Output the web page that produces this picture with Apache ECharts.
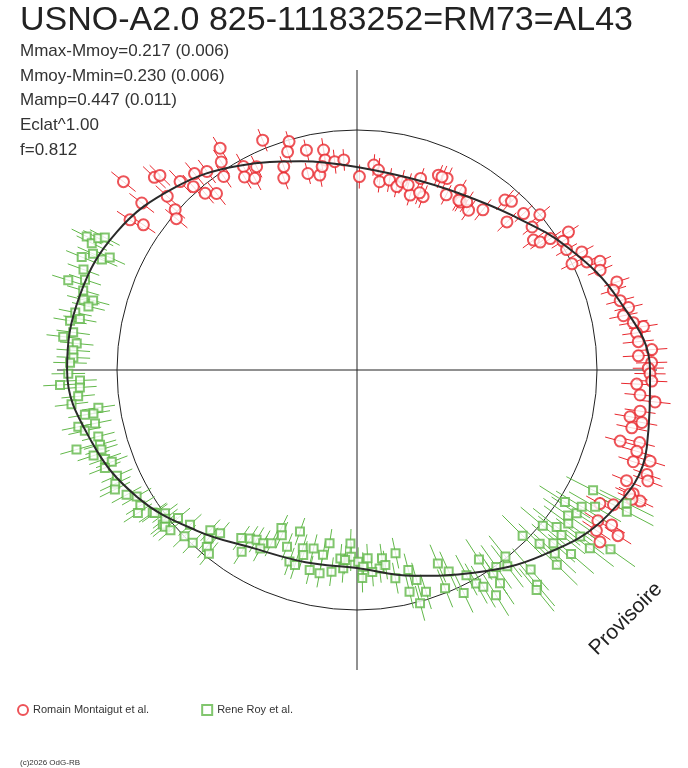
<!DOCTYPE html>
<html>
<head>
<meta charset="utf-8">
<script src="https://cdn.jsdelivr.net/npm/echarts@6/dist/echarts.min.js"></script>
<style>
  html, body { margin: 0; padding: 0; background: #fff; }
  #main { width: 688px; height: 768px; }
</style>
</head>
<body>
<div id="main"></div>
<script>
// phase diagram: angle = phase (0 at top, clockwise), radius = flux relative to mean (1 = mean circle)
var statLines = ['Mmax-Mmoy=0.217 (0.006)', 'Mmoy-Mmin=0.230 (0.006)', 'Mamp=0.447 (0.011)', 'Eclat^1.00', 'f=0.812']

// fitted light curve, every 1/24 of phase
var fitPhase = [0, 0.0417, 0.0833, 0.125, 0.1667, 0.2083, 0.25, 0.2917, 0.3333, 0.375, 0.4167, 0.4583,
    0.5, 0.5417, 0.5833, 0.625, 0.6667, 0.7083, 0.75, 0.7917, 0.8333, 0.875, 0.9167, 0.9583, 1]
var fitFlux = [0.846, 0.829, 0.850, 0.912, 1.017, 1.129, 1.221, 1.250, 1.208, 1.092, 0.975, 0.888,
    0.825, 0.829, 0.858, 0.946, 1.058, 1.146, 1.208, 1.196, 1.154, 1.075, 0.983, 0.900, 0.846]

// Romain Montaigut et al. : [phase, relative flux, error]
var redObs = [
    [0.858, 1.250, 0.065], [0.871, 1.165, 0.065], [0.874, 1.154, 0.060], [0.855, 1.135, 0.065], [0.843, 1.134, 0.065],
    [0.845, 1.076, 0.060], [0.868, 1.072, 0.065], [0.865, 1.010, 0.055], [0.861, 0.982, 0.060], [0.880, 1.077, 0.065],
    [0.890, 1.062, 0.060], [0.884, 1.024, 0.065], [0.887, 0.971, 0.055], [0.893, 0.940, 0.060], [0.897, 1.037, 0.060],
    [0.912, 1.086, 0.055], [0.908, 1.035, 0.060], [0.904, 0.979, 0.055], [0.919, 0.971, 0.060], [0.916, 0.931, 0.055],
    [0.922, 0.905, 0.055], [0.927, 0.945, 0.050], [0.938, 1.035, 0.050], [0.954, 0.993, 0.045], [0.951, 0.954, 0.050],
    [0.964, 0.940, 0.045], [0.976, 0.927, 0.050], [0.976, 0.885, 0.045], [0.942, 0.856, 0.050], [0.945, 0.901, 0.045],
    [0.961, 0.844, 0.045], [0.970, 0.827, 0.050], [0.973, 0.860, 0.045], [0.983, 0.873, 0.050], [0.990, 0.877, 0.045],
    [0.002, 0.806, 0.050], [0.013, 0.857, 0.045], [0.017, 0.838, 0.050], [0.019, 0.790, 0.045], [0.027, 0.803, 0.050],
    [0.034, 0.782, 0.045], [0.037, 0.806, 0.050], [0.047, 0.762, 0.045], [0.043, 0.800, 0.050], [0.051, 0.841, 0.045],
    [0.058, 0.773, 0.050], [0.063, 0.880, 0.045], [0.070, 0.882, 0.050], [0.075, 0.819, 0.045], [0.083, 0.864, 0.050],
    [0.088, 0.822, 0.045], [0.054, 0.783, 0.050], [0.066, 0.879, 0.050], [0.086, 0.825, 0.050], [0.097, 0.812, 0.050],
    [0.106, 0.849, 0.055], [0.092, 0.837, 0.050], [0.114, 0.939, 0.055], [0.118, 0.953, 0.050], [0.126, 0.878, 0.055],
    [0.130, 0.952, 0.050], [0.138, 0.999, 0.055], [0.141, 0.942, 0.050], [0.149, 0.913, 0.055], [0.153, 0.931, 0.050],
    [0.155, 0.974, 0.055], [0.158, 1.052, 0.050], [0.161, 1.012, 0.055], [0.167, 1.007, 0.050], [0.173, 1.058, 0.055],
    [0.177, 0.999, 0.050], [0.180, 1.058, 0.055], [0.183, 1.109, 0.050], [0.188, 1.095, 0.055], [0.198, 1.143, 0.055],
    [0.202, 1.119, 0.055], [0.209, 1.134, 0.060], [0.214, 1.161, 0.060], [0.218, 1.133, 0.060], [0.226, 1.207, 0.060],
    [0.229, 1.175, 0.060], [0.223, 1.168, 0.060], [0.234, 1.178, 0.065], [0.239, 1.231, 0.065], [0.242, 1.174, 0.065],
    [0.246, 1.228, 0.065], [0.249, 1.214, 0.065], [0.252, 1.221, 0.065], [0.258, 1.167, 0.065], [0.256, 1.229, 0.065],
    [0.264, 1.184, 0.065], [0.267, 1.249, 0.065], [0.273, 1.192, 0.065], [0.277, 1.154, 0.065], [0.279, 1.207, 0.065],
    [0.283, 1.170, 0.065], [0.292, 1.136, 0.065], [0.290, 1.216, 0.065], [0.295, 1.214, 0.065], [0.301, 1.213, 0.065],
    [0.298, 1.279, 0.065], [0.312, 1.214, 0.065], [0.305, 1.284, 0.060], [0.308, 1.297, 0.065], [0.317, 1.261, 0.065],
    [0.319, 1.300, 0.060], [0.320, 1.266, 0.065], [0.318, 1.248, 0.065], [0.330, 1.155, 0.065], [0.327, 1.207, 0.065],
    [0.339, 1.184, 0.065], [0.337, 1.242, 0.065], [0.344, 1.201, 0.070], [0.340, 1.288, 0.065], [0.348, 1.240, 0.070]
]

// Rene Roy et al. : [phase, relative flux, error]
var greenObs = [
    [0.823, 1.256, 0.070], [0.821, 1.225, 0.070], [0.825, 1.210, 0.070], [0.827, 1.187, 0.070], [0.812, 1.240, 0.070],
    [0.816, 1.202, 0.070], [0.815, 1.158, 0.070], [0.818, 1.132, 0.070], [0.806, 1.214, 0.070], [0.798, 1.260, 0.070],
    [0.801, 1.194, 0.070], [0.795, 1.188, 0.070], [0.790, 1.177, 0.070], [0.791, 1.137, 0.070], [0.787, 1.150, 0.070],
    [0.782, 1.198, 0.070], [0.779, 1.174, 0.070], [0.777, 1.213, 0.070], [0.768, 1.232, 0.070], [0.771, 1.193, 0.070],
    [0.765, 1.173, 0.070], [0.761, 1.185, 0.070], [0.757, 1.183, 0.070], [0.754, 1.196, 0.070], [0.748, 1.203, 0.070],
    [0.744, 1.155, 0.070], [0.742, 1.239, 0.070], [0.740, 1.157, 0.070], [0.735, 1.167, 0.070], [0.731, 1.198, 0.070],
    [0.727, 1.089, 0.070], [0.724, 1.113, 0.070], [0.724, 1.149, 0.070], [0.718, 1.114, 0.070], [0.718, 1.185, 0.070],
    [0.715, 1.162, 0.070], [0.710, 1.113, 0.070], [0.705, 1.115, 0.070], [0.706, 1.215, 0.070], [0.700, 1.154, 0.070],
    [0.702, 1.115, 0.070], [0.696, 1.113, 0.070], [0.693, 1.091, 0.070], [0.691, 1.127, 0.070], [0.684, 1.093, 0.070],
    [0.680, 1.113, 0.070], [0.677, 1.125, 0.070], [0.671, 1.092, 0.070], [0.667, 1.059, 0.070], [0.661, 1.065, 0.070],
    [0.658, 1.090, 0.070], [0.653, 1.038, 0.070], [0.648, 0.998, 0.065], [0.643, 1.034, 0.065], [0.652, 1.032, 0.065],
    [0.645, 1.011, 0.065], [0.640, 0.968, 0.065], [0.641, 1.033, 0.065], [0.637, 1.025, 0.065], [0.631, 0.949, 0.065],
    [0.628, 0.998, 0.065], [0.621, 0.993, 0.060], [0.615, 0.936, 0.060], [0.618, 0.905, 0.060], [0.611, 0.888, 0.060],
    [0.612, 0.967, 0.060], [0.608, 0.983, 0.060], [0.596, 0.850, 0.060], [0.590, 0.897, 0.060], [0.590, 0.831, 0.060],
    [0.585, 0.822, 0.060], [0.579, 0.821, 0.060], [0.579, 0.846, 0.060], [0.573, 0.805, 0.060], [0.571, 0.730, 0.060],
    [0.568, 0.756, 0.060], [0.560, 0.792, 0.060], [0.554, 0.714, 0.060], [0.554, 0.846, 0.060], [0.549, 0.853, 0.060],
    [0.547, 0.776, 0.060], [0.538, 0.765, 0.060], [0.545, 0.803, 0.060], [0.529, 0.783, 0.060], [0.525, 0.731, 0.060],
    [0.537, 0.856, 0.060], [0.529, 0.861, 0.060], [0.520, 0.847, 0.060], [0.514, 0.788, 0.060], [0.506, 0.723, 0.060],
    [0.505, 0.778, 0.060], [0.499, 0.799, 0.060], [0.495, 0.820, 0.060], [0.491, 0.786, 0.060], [0.479, 0.791, 0.060],
    [0.482, 0.832, 0.060], [0.467, 0.780, 0.065], [0.471, 0.882, 0.065], [0.511, 0.828, 0.060], [0.510, 0.793, 0.060],
    [0.488, 0.844, 0.060], [0.477, 0.821, 0.060], [0.496, 0.867, 0.060], [0.460, 0.860, 0.070], [0.463, 0.950, 0.070],
    [0.458, 1.007, 0.075], [0.456, 0.910, 0.075], [0.452, 0.968, 0.075], [0.437, 0.874, 0.085], [0.439, 0.981, 0.085],
    [0.432, 0.922, 0.090], [0.429, 1.030, 0.090], [0.422, 0.969, 0.095], [0.419, 1.019, 0.095], [0.409, 0.939, 0.100],
    [0.416, 1.045, 0.100], [0.412, 1.103, 0.100], [0.406, 1.070, 0.105], [0.406, 1.020, 0.105], [0.393, 0.993, 0.110],
    [0.396, 1.030, 0.110], [0.402, 1.005, 0.110], [0.386, 1.102, 0.115], [0.389, 1.168, 0.115], [0.391, 1.183, 0.115],
    [0.375, 0.976, 0.120], [0.371, 1.050, 0.120], [0.361, 1.010, 0.120], [0.365, 1.091, 0.120], [0.369, 1.124, 0.120],
    [0.373, 1.163, 0.120], [0.356, 1.058, 0.125], [0.358, 1.095, 0.125], [0.363, 1.176, 0.125], [0.350, 1.088, 0.125],
    [0.346, 1.068, 0.125], [0.340, 1.026, 0.125], [0.342, 1.093, 0.125], [0.352, 1.160, 0.125], [0.337, 1.096, 0.125],
    [0.325, 1.104, 0.125], [0.333, 1.144, 0.125], [0.354, 1.222, 0.125], [0.348, 1.294, 0.125], [0.327, 1.270, 0.125],
    [0.323, 1.253, 0.125]
]

var redColor = '#e8282e'
var greenColor = '#62b84a'

;(function () {
    var myChart = echarts.init(document.getElementById('main'))

    // radial error bar drawn through the polar scales
    function errorBar(color) {
        return function (params, api) {
            var ph = api.value(0), f = api.value(1), e = api.value(2)
            var p1 = api.coord([f - e, ph])
            var p2 = api.coord([f + e, ph])
            return {
                type: 'line',
                shape: { x1: p1[0], y1: p1[1], x2: p2[0], y2: p2[1] },
                style: { stroke: color, lineWidth: 1 }
            }
        }
    }

    var graphics = [{
        type: 'text', x: 20, y: 21,
        style: { text: 'USNO-A2.0 825-11183252=RM73=AL43', font: '34px "Liberation Sans", Arial', fill: '#222', verticalAlign: 'middle' }
    }]
    statLines.forEach(function (t, i) {
        graphics.push({
            type: 'text', x: 20, y: 51.5 + i * 24.6,
            style: { text: t, font: '17px "Liberation Sans", Arial', fill: '#333', verticalAlign: 'middle' }
        })
    })
    graphics.push({
        type: 'text', x: 626, y: 619, rotation: Math.PI / 4,
        style: { text: 'Provisoire', font: '21px "Liberation Sans", Arial', fill: '#222', align: 'center', verticalAlign: 'middle' }
    })
    graphics.push({
        type: 'text', x: 20, y: 763,
        style: { text: '(c)2026 OdG-RB', font: '8px "Liberation Sans", Arial', fill: '#333', verticalAlign: 'middle' }
    })

    var option = {
        animation: false,
        backgroundColor: '#fff',
        graphic: graphics,
        legend: {
            left: 12, top: 699,
            itemWidth: 10, itemHeight: 10, itemGap: 52,
            textStyle: { fontSize: 11, color: '#333', fontFamily: 'Liberation Sans' },
            data: [
                { name: 'Romain Montaigut et al.', icon: 'emptyCircle' },
                { name: 'Rene Roy et al.', icon: 'emptyRect' }
            ]
        },
        polar: { center: [357, 370], radius: 360 },
        angleAxis: { type: 'value', min: 0, max: 1, startAngle: 90, clockwise: true, show: false },
        radiusAxis: { type: 'value', min: 0, max: 1.5, show: false },
        series: [
            {
                // mean circle and the two axes
                type: 'custom', coordinateSystem: 'polar', silent: true,
                data: [[0, 0]],
                renderItem: function (params, api) {
                    var c = api.coord([0, 0])
                    var e = api.coord([1, 0])
                    var r = Math.abs(c[1] - e[1])
                    var top = api.coord([1.25, 0]), bot = api.coord([1.25, 0.5])
                    var rgt = api.coord([1.25, 0.25]), lft = api.coord([1.25, 0.75])
                    var st = { stroke: '#222', lineWidth: 1, fill: null }
                    return {
                        type: 'group',
                        children: [
                            { type: 'circle', shape: { cx: c[0], cy: c[1], r: r }, style: st },
                            { type: 'line', shape: { x1: top[0], y1: top[1], x2: bot[0], y2: bot[1] }, style: st },
                            { type: 'line', shape: { x1: lft[0], y1: lft[1], x2: rgt[0], y2: rgt[1] }, style: st }
                        ]
                    }
                }
            },
            {
                type: 'custom', coordinateSystem: 'polar', silent: true,
                encode: { radius: 1, angle: 0 },
                data: redObs, renderItem: errorBar(redColor)
            },
            {
                type: 'custom', coordinateSystem: 'polar', silent: true,
                encode: { radius: 1, angle: 0 },
                data: greenObs, renderItem: errorBar(greenColor)
            },
            {
                name: 'Romain Montaigut et al.', type: 'scatter', coordinateSystem: 'polar',
                encode: { radius: 1, angle: 0 },
                symbol: 'emptyCircle', symbolSize: 11,
                itemStyle: { color: redColor, borderColor: redColor, borderWidth: 1 },
                data: redObs
            },
            {
                name: 'Rene Roy et al.', type: 'scatter', coordinateSystem: 'polar',
                encode: { radius: 1, angle: 0 },
                symbol: 'emptyRect', symbolSize: 8,
                itemStyle: { color: greenColor, borderColor: greenColor, borderWidth: 1 },
                data: greenObs
            },
            {
                type: 'line', coordinateSystem: 'polar', silent: true,
                showSymbol: false, smooth: 0.4,
                lineStyle: { color: '#2a2a2a', width: 2 },
                data: fitPhase.map(function (p, i) { return [fitFlux[i], p] })
            }
        ]
    }

    myChart.setOption(option)
    window.addEventListener('resize', function () {
        myChart.resize()
    })
})()
</script>
</body>
</html>
